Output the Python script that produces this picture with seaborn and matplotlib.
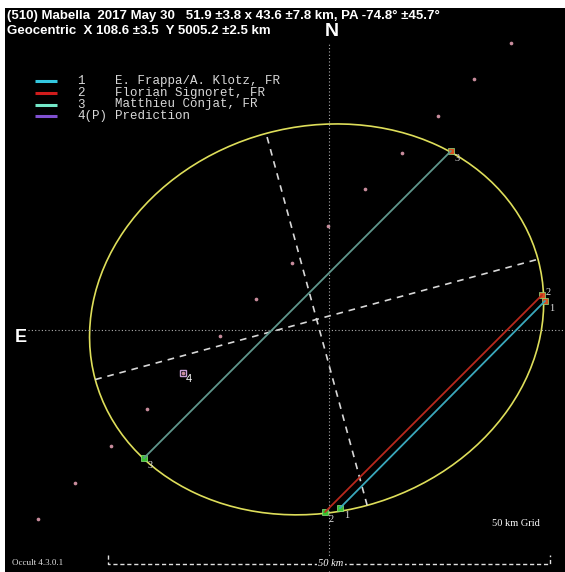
import numpy as np
import pandas as pd
import matplotlib.pyplot as plt
from matplotlib.patches import Ellipse
import seaborn as sns

# Shape fit from the title line (km, deg)
major_km = 51.9
minor_km = 43.6
pa_deg = -74.8
center_km = (-1.4, 1.2)

# Chords: disappearance (D) and reappearance (R) points, km from the fit origin
observers = ["1", "2", "3"]
observer_names = ["E. Frappa/A. Klotz, FR", "Florian Signoret, FR", "Matthieu Conjat, FR"]
d_x = [1.24, -0.45, -20.93]
d_y = [-20.14, -20.59, -14.48]
r_x = [24.43, 24.10, 13.80]
r_y = [3.28, 3.96, 20.25]

# Predicted path tick marks (km), the 10th one is the prediction point "4"
path_x = [20.59, 16.40, 12.33, 8.26, 4.07, -0.11, -4.19, -8.26, -12.33,
          -16.52, -20.59, -24.66, -28.73, -32.92]
path_y = [32.47, 28.39, 24.21, 20.02, 15.95, 11.76, 7.58, 3.51, -0.68,
          -4.86, -8.94, -13.12, -17.31, -21.38]
pred_index = 9

legend_labels = ["1", "2", "3", "4(P)"]
legend_names = observer_names + ["Prediction"]
legend_colors = ["#34c8e0", "#d01c1c", "#74e8c8", "#8050d0"]
chord_colors = {"1": "#3aa8bc", "2": "#b8281c", "3": "#5f968c"}

S = 8.84  # pixels per km in the original plot


def px(x, y):
    # pixel position in the 565x572 picture -> km coordinates
    return (x - 329) / S, (330 - y) / S


sns.set_theme(style="dark")
plt.rcParams['font.family'] = ['Liberation Sans', 'DejaVu Sans']

fig = plt.figure(figsize=(5.65, 5.72), dpi=100)
fig.set_facecolor("white")
ax = fig.add_axes([5 / 565, 0, 560 / 565, 564 / 572])
ax.set_facecolor("black")
x0, y1 = px(5, 8)
x1, y0 = px(565, 572)
ax.set_xlim(x0, x1)
ax.set_ylim(y0, y1)
ax.set_xticks([])
ax.set_yticks([])
for sp in ax.spines.values():
    sp.set_visible(False)

# N / E cross
ax.plot([0, 0], [y0, px(0, 42)[1]], color="#b0b0b0", lw=0.8, ls=(0, (1, 2)))
ax.plot([px(28, 0)[0], x1], [0, 0], color="#b0b0b0", lw=0.8, ls=(0, (1, 2)))
ax.text(*px(332, 32), "N", color="white", fontsize=14, fontweight="bold",
        ha="center", va="center")
ax.text(*px(21, 338), "E", color="white", fontsize=13, fontweight="bold",
        ha="center", va="center")

# fitted ellipse and its axes
ang = 90 + pa_deg
ax.add_patch(Ellipse(center_km, major_km, minor_km, angle=ang, fill=False,
                     edgecolor="#dede5a", lw=1.2))
t = np.radians(ang)
for half, th in [(major_km / 2, t), (minor_km / 2, t + np.pi / 2)]:
    ax.plot([center_km[0] - half * np.cos(th), center_km[0] + half * np.cos(th)],
            [center_km[1] - half * np.sin(th), center_km[1] + half * np.sin(th)],
            color="#d8d8d8", lw=1.2, ls=(0, (4, 3.5)))

# predicted path ticks
sns.scatterplot(x=path_x, y=path_y, color="#c88c9c", s=7, linewidth=0, ax=ax, legend=False)
ax.plot(path_x[pred_index], path_y[pred_index], marker="s", ms=4, mfc="none",
        mec="#c8a0d8", mew=1)
ax.text(path_x[pred_index] + 0.3, path_y[pred_index] - 0.7, "4", color="white",
        fontsize=8, ha="left", va="center")

# chords
chords = pd.DataFrame({
    "x": [v for pair in zip(d_x, r_x) for v in pair],
    "y": [v for pair in zip(d_y, r_y) for v in pair],
    "observer": [o for o in observers for _ in range(2)],
})
sns.lineplot(data=chords, x="x", y="y", hue="observer", palette=chord_colors,
             sort=False, estimator=None, lw=1.3, ax=ax, legend=False)
ends = pd.DataFrame({"x": d_x + r_x, "y": d_y + r_y,
                     "event": ["D"] * 3 + ["R"] * 3})
sns.scatterplot(data=ends, x="x", y="y", hue="event",
                palette={"D": "#38c030", "R": "#d85020"}, marker="s", s=14,
                edgecolor="#90e080", linewidth=0.5, ax=ax, legend=False)
# label offsets in km (the two right-hand labels are nudged apart)
r_off = [(0.5, -0.9), (0.45, 0.25), (0.45, -0.85)]
for i, o in enumerate(observers):
    for (ex, ey), (ox, oy) in [((d_x[i], d_y[i]), (0.45, -0.85)),
                               ((r_x[i], r_y[i]), r_off[i])]:
        ax.text(ex + ox, ey + oy, o, color="#e0e0e0", fontsize=7.5,
                family="Liberation Serif", ha="left", va="center")

# legend
for i, (lab, name, c) in enumerate(zip(legend_labels, legend_names, legend_colors)):
    yy = [81, 93, 104.5, 116][i]
    xa, ya = px(35, yy)
    xb, _ = px(57, yy)
    ax.plot([xa, xb], [ya, ya], color=c, lw=2.2, solid_capstyle="butt")
    ax.text(*px(77, yy), lab, color="#d8d8d8", fontsize=9,
            family="Liberation Mono", ha="left", va="center")
    ax.text(*px(115, yy), name, color="#d8d8d8", fontsize=9,
            family="Liberation Mono", ha="left", va="center")

# title lines
ax.text(*px(7, 16), "(510) Mabella  2017 May 30   51.9 \u00b13.8 x 43.6 \u00b17.8 km, PA -74.8\u00b0 \u00b145.7\u00b0",
        color="white", fontsize=9.5, fontweight="bold", ha="left", va="center")
ax.text(*px(7, 31), "Geocentric  X 108.6 \u00b13.5  Y 5005.2 \u00b12.5 km",
        color="white", fontsize=9.5, fontweight="bold", ha="left", va="center")

# scale bar and footer
bx0, by = px(108, 564)
bx1, bt = px(550, 555)
ax.plot([bx0, bx0, bx1, bx1], [bt, by, by, bt], color="#e0e0e0", lw=1,
        ls=(0, (3, 2)), clip_on=False)
ax.text(0.2, by, "50 km", color="white", fontsize=7.5, style="italic",
        family="Liberation Serif", ha="center", va="center",
        bbox=dict(facecolor="black", edgecolor="none", pad=1))
ax.text(*px(516, 524), "50 km Grid", color="white", fontsize=7.5,
        family="Liberation Serif", ha="center", va="center")
ax.text(*px(12, 563), "Occult 4.3.0.1", color="#e0e0e0", fontsize=6.5,
        family="Liberation Serif", ha="left", va="center")

plt.savefig("out.png", dpi=100, facecolor=fig.get_facecolor())
